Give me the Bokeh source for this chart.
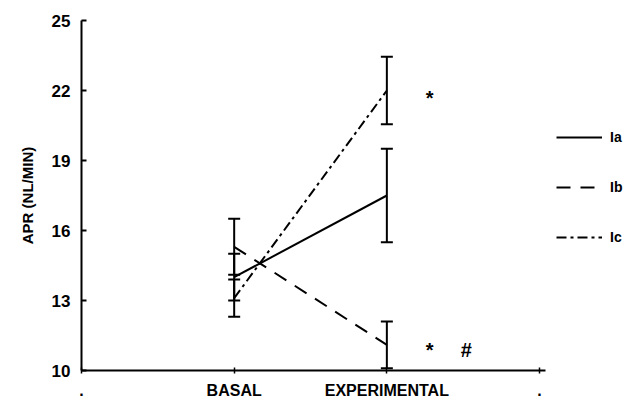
from bokeh.plotting import figure
from bokeh.models import (FixedTicker, Whisker, TeeHead, ColumnDataSource, Legend, LegendItem)
from bokeh.core.properties import value
from bokeh.embed import file_html
from bokeh.resources import INLINE

# ---- data ----
categories = [".", "BASAL", "EXPERIMENTAL", "."]
cat_pos = [0, 1, 2, 3]
series = ["Ia", "Ib", "Ic"]
basal_mean = [14.0, 15.3, 13.1]
basal_err = [1.0, 1.2, 0.8]
exp_mean = [17.5, 11.1, 22.0]
exp_err = [2.0, 1.0, 1.45]
dashes = ["solid", "14 10", "10 4 3 4"]
y_ticks = [10, 13, 16, 19, 22, 25]
marks = ["*", "*", "#"]
mark_x = [2.28, 2.28, 2.52]
mark_y = [21.7, 10.9, 10.9]

FONT = "Liberation Sans"

p = figure(frame_width=542, frame_height=350, x_range=(0, 3.55), y_range=(10, 25),
           output_backend="svg", toolbar_location=None,
           min_border_left=81, min_border_right=2, min_border_top=20, min_border_bottom=30)
p.outline_line_color = None
p.grid.visible = False
p.background_fill_color = "white"

# axes
p.yaxis.ticker = FixedTicker(ticks=y_ticks)
p.yaxis.major_tick_in = 5
p.yaxis.major_tick_out = 0
p.yaxis.minor_tick_line_color = None
p.yaxis.axis_line_width = 2
p.yaxis.major_tick_line_width = 2
p.yaxis.major_label_text_font = FONT
p.yaxis.major_label_text_font_style = "bold"
p.yaxis.major_label_text_font_size = "17px"
p.yaxis.major_label_text_color = "black"
p.yaxis.major_label_standoff = 11
p.yaxis.axis_label = "APR (NL/MIN)"
p.yaxis.axis_label_text_font = FONT
p.yaxis.axis_label_text_font_style = "bold"
p.yaxis.axis_label_text_font_size = "15px"
p.yaxis.axis_label_text_color = "black"
p.yaxis.axis_label_standoff = 13

p.xaxis.ticker = FixedTicker(ticks=cat_pos)
p.xaxis.bounds = (0, 3.04)
p.xaxis.major_label_overrides = {pos: lab for pos, lab in zip(cat_pos, categories)}
p.xaxis.major_tick_in = 3
p.xaxis.major_tick_out = 3
p.xaxis.minor_tick_line_color = None
p.xaxis.axis_line_width = 2
p.xaxis.major_tick_line_width = 1.5
p.xaxis.major_label_text_font = FONT
p.xaxis.major_label_text_font_style = "bold"
p.xaxis.major_label_text_font_size = "16px"
p.xaxis.major_label_text_color = "black"
p.xaxis.major_label_standoff = 8

items = []
for name, b, e, d in zip(series, basal_mean, exp_mean, dashes):
    r = p.line(x=[cat_pos[1], cat_pos[2]], y=[b, e], line_color="black",
               line_width=2, line_dash=d)
    items.append(LegendItem(label=name, renderers=[r]))

# error bars
xs = [cat_pos[1]] * len(series) + [cat_pos[2]] * len(series)
means = basal_mean + exp_mean
errs = basal_err + exp_err
src = ColumnDataSource(dict(x=xs,
                            upper=[m + e for m, e in zip(means, errs)],
                            lower=[m - e for m, e in zip(means, errs)]))
w = Whisker(source=src, base="x", upper="upper", lower="lower",
            line_color="black", line_width=2,
            upper_head=TeeHead(size=12, line_width=2, line_color="black"),
            lower_head=TeeHead(size=12, line_width=2, line_color="black"))
p.add_layout(w)

# significance marks
p.text(x=mark_x, y=mark_y, text=marks, text_font=value(FONT),
       text_font_style="bold", text_font_size="20px", text_color="black",
       text_align="center", text_baseline="middle")

legend = Legend(items=items, location=(475, 123), orientation="vertical",
                glyph_width=46, glyph_height=20, label_height=20,
                spacing=30, padding=0, margin=0, label_standoff=8,
                border_line_color=None, background_fill_alpha=0,
                label_text_font=FONT, label_text_font_style="bold",
                label_text_font_size="14px", label_text_color="black")
p.add_layout(legend, "center")

open("out.html", "w").write(file_html(p, INLINE))
